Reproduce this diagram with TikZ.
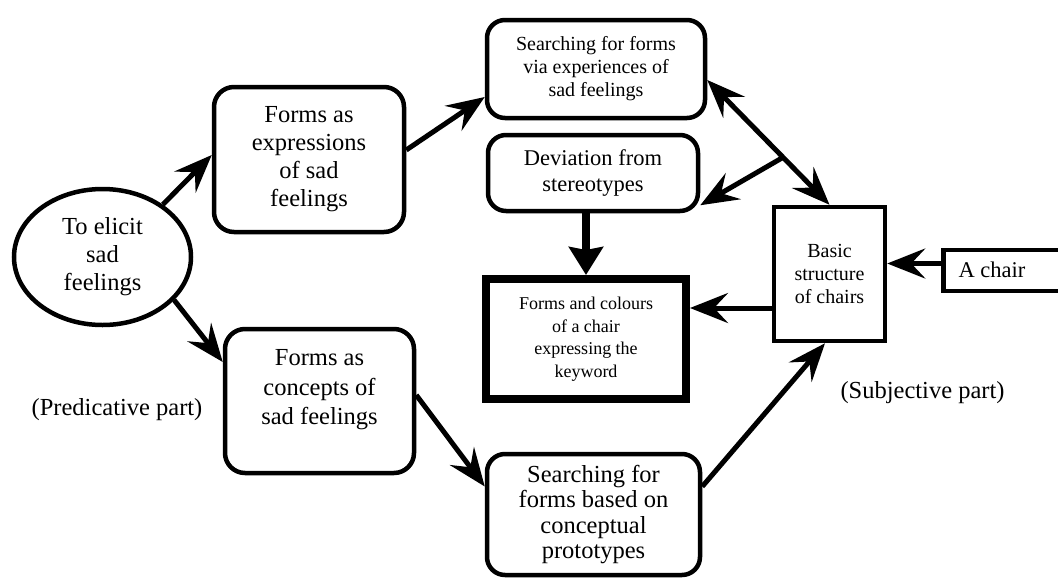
\documentclass[tikz,border=0pt]{standalone}
\usepackage{fontspec}
\setmainfont{Liberation Serif}
\usetikzlibrary{arrows.meta,shapes.geometric,calc}
\begin{document}
\begin{tikzpicture}[x=1pt,y=-1pt,
  big/.style={font=\fontsize{24.5}{28}\selectfont},
  mid/.style={font=\fontsize{22.5}{26}\selectfont},
  small/.style={font=\fontsize{20}{23}\selectfont},
  rbox/.style={draw, line width=4.5pt, rounded corners=20pt, inner sep=0pt, align=center},
  sbox/.style={draw, line width=4.5pt, inner sep=0pt, align=center},
  txt/.style={inner sep=0pt, align=center},
  tip/.tip={Stealth[length=38pt,width=30pt,inset=14pt]},
  arr/.style={line width=5pt, -tip},
  darr/.style={line width=5pt, tip-tip},
  fatarr/.style={line width=7.5pt, -{Stealth[length=28pt,width=34pt,inset=3pt]}}
]
\useasboundingbox (0,0) rectangle (1058,579);
\fill[white] (0,0) rectangle (1058,579);

% nodes
\node[draw, ellipse, line width=4.5pt, inner sep=0pt, minimum width=177pt, minimum height=136pt, align=center, big]
  (E) at (102.5,257) {To elicit\\sad\\feelings};
\node[rbox, big, minimum width=190pt, minimum height=145pt] (A) at (309,159.5)
  {Forms as\\expressions\\of sad\\feelings};
\node[rbox, minimum width=189pt, minimum height=144pt] (B) at (319.5,401) {};
\node[txt, font=\fontsize{24.5}{29.5}\selectfont] (Bt) at (319.5,390) {Forms as\\concepts of\\sad feelings};
\node[rbox, small, rounded corners=18pt, minimum width=218pt, minimum height=98pt] (SV) at (596,69)
  {Searching for forms\\via experiences of\\sad feelings};
\node[rbox, mid, rounded corners=18pt, minimum width=210pt, minimum height=76pt] (D) at (593,173)
  {Deviation from\\stereotypes};
\node[sbox, font=\fontsize{18}{22.5}\selectfont, line width=8pt, minimum width=200pt, minimum height=120pt] (F) at (586,339)
  {Forms and colours\\of a chair\\expressing the\\keyword};
\node[sbox, small, minimum width=111pt, minimum height=134pt] (G) at (829.5,274)
  {Basic\\structure\\of chairs};
\node[sbox, minimum width=121pt, minimum height=41pt] (H) at (1004,270.5) {};
\node[txt, mid] (Ht) at (992,270) {A chair};
\node[rbox, font=\fontsize{24.5}{25.5}\selectfont, rounded corners=18pt, minimum width=213pt, minimum height=121pt] (SB) at (593.5,514.5)
  {Searching for\\forms based on\\conceptual\\prototypes};
\node[txt, big] (P) at (117,410) {(Predicative part)};
\node[txt, big] (S) at (922.5,393) {(Subjective part)};

% connectors
\draw[arr] (E.41) -- ([yshift=4.5pt]A.west);
\draw[arr] (E.-31) -- ([yshift=39pt]B.west);
\draw[arr] ([yshift=9.5pt]A.east) -- ([yshift=-28pt]SV.west);
\draw[arr] ([yshift=6pt]B.east) -- ([yshift=28pt]SB.west);
\draw[arr] ([yshift=28pt]SB.east) -- ([xshift=-4.5pt]G.south);
\coordinate (p1) at ([yshift=-11pt]SV.east);
\draw[darr] (p1) -- (G.north);
\coordinate (br) at ($(p1)!0.62!(G.north)$);
\draw[arr] (br) -- ([yshift=8pt]D.south east);
\draw[fatarr] (F.north |- D.south) -- (F.north);
\coordinate (g1) at ([yshift=-34pt]G.west);
\draw[arr] (g1) -- (F.east |- g1);
\coordinate (h1) at ([yshift=7pt]H.west);
\draw[arr] (h1) -- (G.east |- h1);
\end{tikzpicture}
\end{document}
